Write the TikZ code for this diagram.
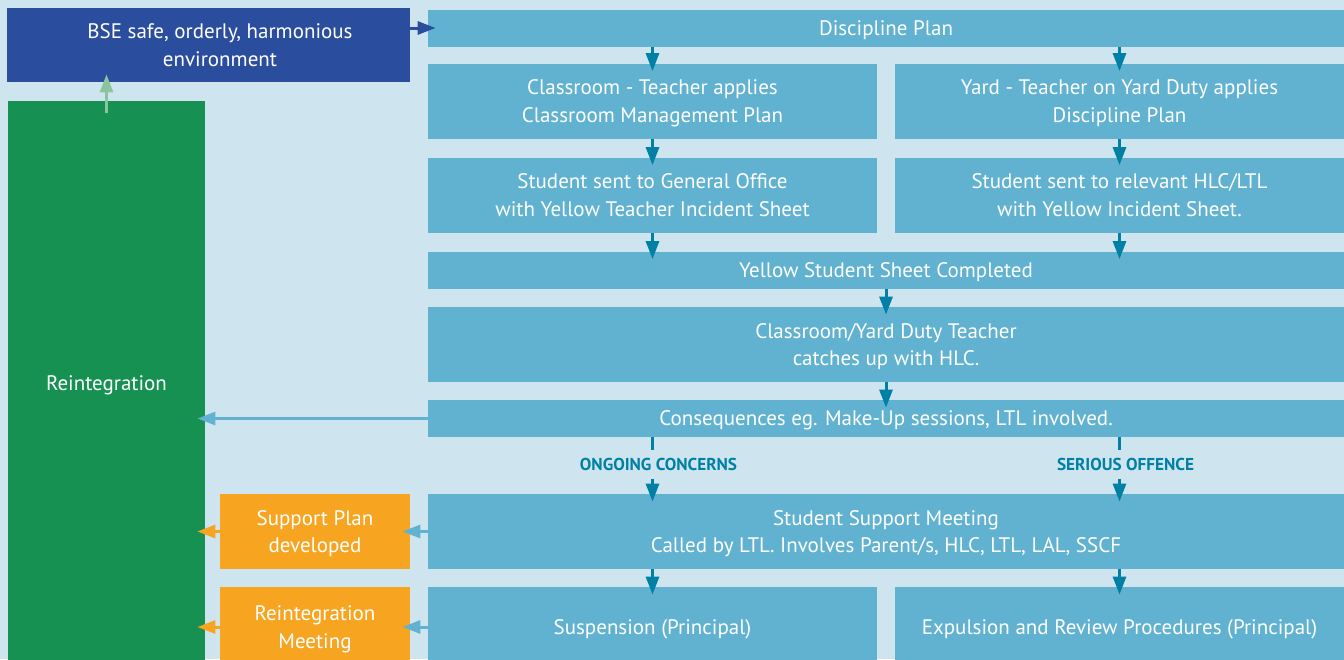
\documentclass[tikz,border=0pt]{standalone}
\usepackage{fontspec}
\setmainfont{PT Sans}
\usetikzlibrary{arrows.meta}

\definecolor{paleblue}{RGB}{206,229,239}
\definecolor{boxblue}{RGB}{96,178,208}
\definecolor{navyblue}{RGB}{43,77,158}
\definecolor{reintgreen}{RGB}{22,145,82}
\definecolor{planorange}{RGB}{247,165,32}
\definecolor{arrowteal}{RGB}{0,128,165}
\definecolor{palegreen}{RGB}{141,196,160}

\begin{document}
\begin{tikzpicture}[x=0.5pt,y=-0.5pt,
    stage/.style={fill=boxblue, text=white, align=center, inner sep=0pt,
      text depth=-1pt, font=\fontsize{10.5}{13.7}\selectfont},
    wide/.style={minimum width=458pt},
    half/.style={minimum width=224.5pt},
    tall/.style={minimum height=37.5pt},
    thin/.style={minimum height=18.5pt},
    tag/.style={text=arrowteal, inner xsep=0pt, inner ysep=4pt,
      text height=6pt, text depth=0pt, font=\bfseries\fontsize{8.6}{9}\selectfont},
    flow/.style={-{Triangle[length=9pt,width=6.5pt]}, draw=arrowteal,
      line width=1.5pt, shorten >=-4pt}]

  \fill[paleblue] (0,0) rectangle (1344,659);
  \useasboundingbox (0,0) rectangle (1344,659);

  \node[stage, fill=navyblue, minimum width=201.5pt, minimum height=37pt] (bse) at (208.5,45) {\hspace*{11.5pt}BSE safe, orderly, harmonious\\\hspace*{11.5pt}environment};
  \node[stage, fill=reintgreen, minimum width=98.5pt, minimum height=282pt] (reint) at (106.5,383) {Reintegration};

  \node[stage, wide, thin] (disc) at (886,28) {Discipline Plan};
  \node[stage, half, tall] (class) at (652.5,101) {Classroom - Teacher applies\\Classroom Management Plan};
  \node[stage, half, tall] (yard) at (1119.5,101) {Yard - Teacher on Yard Duty applies\\Discipline Plan};
  \node[stage, half, tall] (office) at (652.5,195) {Student sent to General Office\\with Yellow Teacher Incident Sheet};
  \node[stage, half, tall] (hlc) at (1119.5,195) {Student sent to relevant HLC/LTL\\with Yellow Incident Sheet.};
  \node[stage, wide, thin] (sheet) at (886,270) {Yellow Student Sheet Completed};
  \node[stage, wide, tall] (catchup) at (886,344.5) {Classroom/Yard Duty Teacher\\catches up with HLC.};
  \node[stage, wide, thin] (conseq) at (886,418.5) {Consequences eg. Make-Up sessions, LTL involved.};
  \node[stage, wide, tall] (meeting) at (886,531.5) {Student Support Meeting\\Called by LTL. Involves Parent/s, HLC, LTL, LAL, SSCF};
  \node[stage, half, minimum height=40pt] (susp) at (652.5,627) {Suspension (Principal)};
  \node[stage, half, minimum height=40pt] (expel) at (1119.5,627) {Expulsion and Review Procedures (Principal)};

  \node[stage, fill=planorange, minimum width=95pt, tall] (plan) at (315,531.5) {Support Plan\\developed};
  \node[stage, fill=planorange, minimum width=95pt, minimum height=40pt] (rmeet) at (315,627) {Reintegration\\Meeting};

  \node[tag] (ongoing) at ([xshift=3pt]susp.north |- 0,464.5) {ONGOING CONCERNS};
  \node[tag] (serious) at ([xshift=3pt]expel.north |- 0,464.5) {SERIOUS OFFENCE};

  \draw[flow] (disc.south -| class) -- (class.north);
  \draw[flow] (disc.south -| yard) -- (yard.north);
  \draw[flow] (class) -- (office);
  \draw[flow] (yard) -- (hlc);
  \draw[flow] (office.south) -- (office.south |- sheet.north);
  \draw[flow] (hlc.south) -- (hlc.south |- sheet.north);
  \draw[flow] (sheet) -- (catchup);
  \draw[flow] (catchup) -- (conseq);

  \draw[draw=arrowteal, line width=1.5pt] (conseq.south -| susp) -- (ongoing.north -| susp);
  \draw[draw=arrowteal, line width=1.5pt] (conseq.south -| expel) -- (serious.north -| expel);
  \draw[flow] (ongoing.south -| susp) -- (meeting.north -| susp);
  \draw[flow] (serious.south -| expel) -- (meeting.north -| expel);
  \draw[flow] (meeting.south -| susp) -- (susp.north);
  \draw[flow] (meeting.south -| expel) -- (expel.north);

  \draw[flow, draw=boxblue] (conseq.west) -- (conseq.west -| reint.east);
  \draw[flow, draw=boxblue] (meeting) -- (plan);
  \draw[flow, draw=boxblue] (susp) -- (rmeet);
  \draw[flow, draw=planorange] (plan.west) -- (plan.west -| reint.east);
  \draw[flow, draw=planorange] (rmeet.west) -- (rmeet.west -| reint.east);
  \draw[flow, draw=palegreen, shorten <=-6pt] (reint.north) -- (bse.south -| reint);
  \draw[flow, draw=navyblue] (bse.east |- disc) -- (disc.west);

\end{tikzpicture}
\end{document}
